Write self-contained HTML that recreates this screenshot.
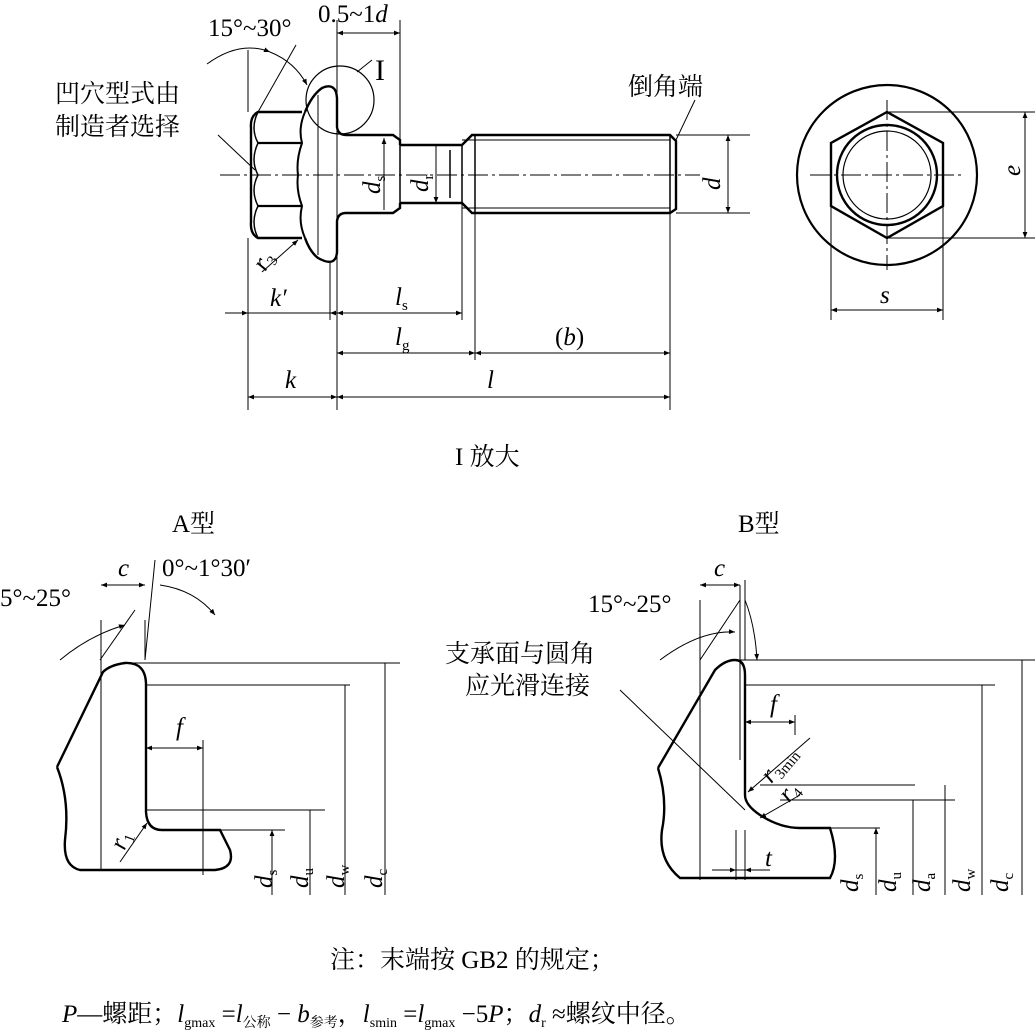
<!DOCTYPE html>
<html><head><meta charset="utf-8"><style>
html,body{margin:0;padding:0;background:#fff}
svg{display:block}
text{font-family:"Liberation Serif","Noto Serif CJK SC",serif;fill:#000}
.cn{font-family:"Liberation Serif","Noto Serif CJK SC","Noto Sans CJK SC",serif}
.i{font-style:italic}
</style></head><body>
<svg width="1035" height="1030" viewBox="0 0 1035 1030" xmlns="http://www.w3.org/2000/svg">
<defs>
<marker id="a" viewBox="0 0 10 10" refX="10" refY="5" markerWidth="12" markerHeight="6" orient="auto-start-reverse" markerUnits="userSpaceOnUse"><path d="M0,1 L10,5 L0,9 z" fill="#000"/></marker>
</defs>
<g stroke="#000" fill="none" stroke-width="1">
<!-- top view: head -->
<path d="M302,112 L258,112 Q250,116 251,128 L251,222 Q250,234 258,238 L302,238" stroke-width="2.4"/>
<path d="M258,143 L302,143 M258,206 L302,206" stroke-width="2.2"/>
<path d="M258,112 Q250,128 258,143 Q250,160 258,175 Q250,190 258,206 Q250,222 258,238" stroke-width="1.5"/>
<path d="M305,112 Q298,128 302,143 Q296,160 298,175 Q296,190 302,206 Q298,222 305,238" stroke-width="2"/>
<!-- flange -->
<path d="M305,112 Q312,95 322,88 Q336,82 337,98 L337,127 Q338,135 346,135 L393,135 L400,140 L400,145" stroke-width="2.4"/>
<path d="M305,238 Q310,252 318,258 Q336,268 337,252 L337,221 Q338,213 346,213 L393,213 L400,208 L400,203" stroke-width="2.4"/>
<path d="M318,95 L318,255" stroke-width="1"/>
<!-- shank -->
<path d="M400,145 L462,145 L472,135 L670,135 L676,141 L676,209 L670,213 L472,213 L462,203 L400,203" stroke-width="2.4"/>
<path d="M400,145 L400,203 M462,145 L462,203 M475,135 L475,213 M670,135 L670,213" stroke-width="1.5"/>
<path d="M462,140 L670,140 M462,208 L670,208" stroke-width="1"/>
<path d="M450,150 L450,198" stroke-width="1.5"/>
<path d="M220,175 L700,175" stroke-dasharray="20,4,3,4"/>
<circle cx="340" cy="100" r="34" stroke-width="1.2"/>
<path d="M357,72 L372,60"/>
<!-- right view -->
<circle cx="887" cy="175" r="90" stroke-width="2.2"/>
<path d="M887,112 L943,143 L943,206 L887,238 L831,206 L831,143 Z" stroke-width="2.4"/>
<circle cx="887" cy="175" r="50" stroke-width="2.4"/>
<circle cx="887" cy="175" r="44" stroke-width="1.2"/>
<path d="M887,100 L887,270 M810,175 L965,175" stroke-dasharray="20,4,3,4"/>
<path d="M887,112 L1035,112 M887,238 L1035,238"/>
<path d="M1025,112 L1025,238" marker-start="url(#a)" marker-end="url(#a)"/>
<path d="M831,206 L831,320 M943,206 L943,320"/>
<path d="M831,310 L943,310" marker-start="url(#a)" marker-end="url(#a)"/>
<!-- d -->
<path d="M676,135 L750,135 M676,213 L750,213"/>
<path d="M728,135 L728,213" marker-start="url(#a)" marker-end="url(#a)"/>
<path d="M676,140 L695,100"/>
<!-- top dims -->
<path d="M337,20 L337,410 M400,20 L400,145 M248,238 L248,410 M330,262 L330,320 M462,203 L462,320 M475,213 L475,360 M670,213 L670,410 M248,50 L248,112"/>
<path d="M337,33 L400,33" marker-start="url(#a)" marker-end="url(#a)"/>
<path d="M225,313 L248,313" marker-end="url(#a)"/><path d="M355,313 L330,313" marker-end="url(#a)"/><path d="M248,313 L330,313"/>
<path d="M337,313 L462,313" marker-start="url(#a)" marker-end="url(#a)"/>
<path d="M337,353 L475,353" marker-start="url(#a)" marker-end="url(#a)"/>
<path d="M475,353 L670,353" marker-start="url(#a)" marker-end="url(#a)"/>
<path d="M248,397 L337,397" marker-start="url(#a)" marker-end="url(#a)"/>
<path d="M337,397 L670,397" marker-start="url(#a)" marker-end="url(#a)"/>
<path d="M384,138 L384,210 M436,145 L436,203" marker-start="url(#a)" marker-end="url(#a)"/>
<path d="M207,64 Q240,40 270,52" marker-end="url(#a)"/>
<path d="M270,52 Q295,62 307,85" marker-end="url(#a)"/>
<path d="M258,112 L296,45"/>
<path d="M218,135 L255,170" /><path d="M262,272 L298,240" marker-end="url(#a)"/>
<!-- A type -->
<path d="M57,767 Q70,800 65,840 Q63,866 80,870 L215,870 Q235,868 230,850 L220,830 L162,830 Q147,830 146,812 L146,685 Q146,662 125,663 Q110,665 103,672 L57,767" stroke-width="2.4"/>
<path d="M120,663 L400,663 M146,685 L350,685 M146,810 L325,810 M220,830 L285,830"/>
<path d="M101,620 L101,870 M145,620 L145,660 M155,560 L145,660"/>
<path d="M101,585 L145,585" marker-start="url(#a)" marker-end="url(#a)"/>
<path d="M203,740 L203,875"/>
<path d="M146,748 L203,748" marker-start="url(#a)" marker-end="url(#a)"/>
<path d="M385,895 L385,663 M345,895 L345,685 M310,895 L310,810 M272,895 L272,830" marker-end="url(#a)"/>
<path d="M60,660 Q90,635 125,625" marker-end="url(#a)"/>
<path d="M160,585 Q195,590 215,615" marker-end="url(#a)"/>
<path d="M120,862 L147,823" marker-end="url(#a)"/>
<path d="M100,660 L135,610"/>
<!-- B type -->
<path d="M658,768 Q668,800 662,830 Q658,860 680,878 L830,878 Q840,860 830,828 L800,828 Q780,828 760,815 Q745,805 745,795 L745,675 Q745,660 735,660 Q725,660 715,670 L658,768" stroke-width="2.4"/>
<path d="M740,660 L1035,660 M745,685 L995,685 M760,785 L915,785 M780,800 L955,800 M790,828 L880,828"/>
<path d="M700,600 L700,880 M740,585 L740,760 M745,580 L745,660"/>
<path d="M700,585 L740,585" marker-start="url(#a)" marker-end="url(#a)"/>
<path d="M795,715 L795,735"/>
<path d="M745,722 L795,722" marker-start="url(#a)" marker-end="url(#a)"/>
<path d="M712,870 L736,870" marker-end="url(#a)"/><path d="M770,870 L745,870" marker-end="url(#a)"/><path d="M736,870 L745,870"/>
<path d="M736,830 L736,880 M745,830 L745,880"/>
<path d="M1022,895 L1022,660 M982,895 L982,685 M945,895 L945,785 M913,895 L913,800 M876,895 L876,828" marker-end="url(#a)"/>
<path d="M660,660 Q700,630 735,632" marker-end="url(#a)"/>
<path d="M745,600 Q755,625 757,660" marker-end="url(#a)"/>
<path d="M620,690 L745,810"/>
<path d="M810,738 L748,792" marker-end="url(#a)"/>
<path d="M800,795 L760,818" marker-end="url(#a)"/>
<path d="M700,660 L740,600"/>
</g>
<g font-size="25">
<text x="208" y="36">15°~30°</text>
<text x="318" y="22">0.5~1<tspan class="i">d</tspan></text>
<text x="375" y="80" font-size="30">I</text>
<text class="cn" x="55" y="102">凹穴型式由</text>
<text class="cn" x="55" y="135">制造者选择</text>
<text class="cn" x="628" y="95">倒角端</text>
<text class="i" x="360" y="190" transform="rotate(-90 372 182)">d<tspan font-size="15" font-style="normal" dy="5">s</tspan></text>
<text class="i" x="410" y="190" transform="rotate(-90 420 182)">d<tspan font-size="15" font-style="normal" dy="5">r</tspan></text>
<text class="i" x="705" y="185" transform="rotate(-90 715 180)">d</text>
<text class="i" x="1010" y="180" transform="rotate(-90 1013 173)">e</text>
<text class="i" x="880" y="303">s</text>
<text class="i" x="255" y="270" transform="rotate(-60 262 262)">r<tspan font-size="15" font-style="normal" dy="5">3</tspan></text>
<text class="i" x="270" y="306">k′</text>
<text class="i" x="395" y="305">l<tspan font-size="15" font-style="normal" dy="5">s</tspan></text>
<text class="i" x="395" y="345">l<tspan font-size="15" font-style="normal" dy="5">g</tspan></text>
<text x="555" y="345">(<tspan class="i">b</tspan>)</text>
<text class="i" x="285" y="388">k</text>
<text class="i" x="487" y="388">l</text>
<text class="cn" x="455" y="465">I 放大</text>
<text class="cn" x="172" y="532">A型</text>
<text class="cn" x="738" y="532">B型</text>
<text class="i" x="118" y="576">c</text>
<text x="162" y="576">0°~1°30′</text>
<text x="0" y="606">5°~25°</text>
<text class="i" x="176" y="735">f</text>
<text class="i" x="110" y="850" transform="rotate(-70 118 840)">r<tspan font-size="15" font-style="normal" dy="5">1</tspan></text>
<text class="i" x="252" y="888" transform="rotate(-90 262 878)">d<tspan font-size="15" font-style="normal" dy="5">s</tspan></text>
<text class="i" x="288" y="888" transform="rotate(-90 298 878)">d<tspan font-size="15" font-style="normal" dy="5">u</tspan></text>
<text class="i" x="324" y="888" transform="rotate(-90 334 878)">d<tspan font-size="15" font-style="normal" dy="5">w</tspan></text>
<text class="i" x="362" y="888" transform="rotate(-90 372 878)">d<tspan font-size="15" font-style="normal" dy="5">c</tspan></text>
<text class="i" x="714" y="576">c</text>
<text x="588" y="612">15°~25°</text>
<text class="cn" x="445" y="662">支承面与圆角</text>
<text class="cn" x="465" y="694">应光滑连接</text>
<text class="i" x="770" y="712">f</text>
<text class="i" x="760" y="780" transform="rotate(-50 770 770)">r<tspan font-size="15" font-style="normal" dy="5">3min</tspan></text>
<text class="i" x="780" y="800" transform="rotate(-50 788 792)">r<tspan font-size="15" font-style="normal" dy="5">4</tspan></text>
<text class="i" x="765" y="866">t</text>
<text class="i" x="838" y="892" transform="rotate(-90 848 882)">d<tspan font-size="15" font-style="normal" dy="5">s</tspan></text>
<text class="i" x="876" y="892" transform="rotate(-90 886 882)">d<tspan font-size="15" font-style="normal" dy="5">u</tspan></text>
<text class="i" x="910" y="892" transform="rotate(-90 920 882)">d<tspan font-size="15" font-style="normal" dy="5">a</tspan></text>
<text class="i" x="950" y="892" transform="rotate(-90 960 882)">d<tspan font-size="15" font-style="normal" dy="5">w</tspan></text>
<text class="i" x="988" y="892" transform="rotate(-90 998 882)">d<tspan font-size="15" font-style="normal" dy="5">c</tspan></text>
<text class="cn" x="330" y="968">注：末端按 GB2 的规定；</text>
<text class="cn" x="62" y="1022"><tspan class="i">P</tspan>—螺距；<tspan class="i">l</tspan><tspan font-size="14" dy="5">gmax</tspan><tspan dy="-5"> =</tspan><tspan class="i">l</tspan><tspan font-size="14" dy="5">公称</tspan><tspan dy="-5"> − </tspan><tspan class="i">b</tspan><tspan font-size="14" dy="5">参考</tspan><tspan dy="-5">，</tspan><tspan class="i">l</tspan><tspan font-size="14" dy="5">smin</tspan><tspan dy="-5"> =</tspan><tspan class="i">l</tspan><tspan font-size="14" dy="5">gmax</tspan><tspan dy="-5"> −5</tspan><tspan class="i">P</tspan>；<tspan class="i">d</tspan><tspan font-size="14" dy="5">r</tspan><tspan dy="-5"> ≈螺纹中径。</tspan></text>
</g>
</svg>
</body></html>
